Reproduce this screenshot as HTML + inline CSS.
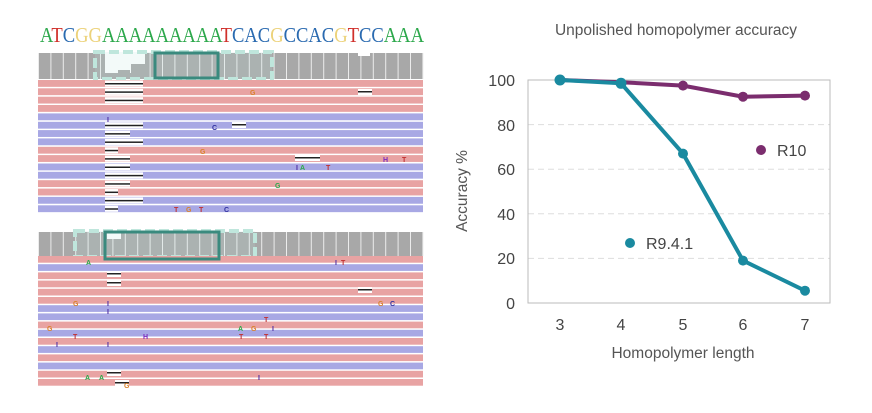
<!DOCTYPE html>
<html><head><meta charset="utf-8"><style>
html,body{margin:0;padding:0;background:#fff;width:872px;height:413px;overflow:hidden}
svg{display:block}
</style></head><body>
<svg id="s" width="872" height="413" xmlns="http://www.w3.org/2000/svg" font-family="Liberation Sans, sans-serif">
<rect width="872" height="413" fill="#fff"/>
<text x="40" y="42" font-family="Liberation Serif, serif" font-size="21" textLength="384" lengthAdjust="spacingAndGlyphs"><tspan fill="#2ca84b">A</tspan><tspan fill="#d0302b">T</tspan><tspan fill="#2a6ab0">C</tspan><tspan fill="#ecd27a">GG</tspan><tspan fill="#2ca84b">AAAAAAAAA</tspan><tspan fill="#d0302b">T</tspan><tspan fill="#2a6ab0">CAC</tspan><tspan fill="#ecd27a">G</tspan><tspan fill="#2a6ab0">CCAC</tspan><tspan fill="#ecd27a">G</tspan><tspan fill="#d0302b">T</tspan><tspan fill="#2a6ab0">CC</tspan><tspan fill="#2ca84b">AAA</tspan></text>
<g id="left"></g>
<text x="676" y="35" font-size="15.5" fill="#555" text-anchor="middle">Unpolished homopolymer accuracy</text>
<g stroke="#ddd" stroke-dasharray="6,4" stroke-width="1">
<line x1="528" x2="830" y1="258.4" y2="258.4"/><line x1="528" x2="830" y1="213.8" y2="213.8"/><line x1="528" x2="830" y1="169.2" y2="169.2"/><line x1="528" x2="830" y1="124.6" y2="124.6"/>
</g>
<rect x="528" y="80" width="302" height="223" fill="none" stroke="#bbb" stroke-width="1"/>
<g font-size="16" fill="#444" text-anchor="end">
<text x="515" y="309">0</text><text x="515" y="264">20</text><text x="515" y="220">40</text><text x="515" y="175">60</text><text x="515" y="131">80</text><text x="515" y="86">100</text>
</g>
<g font-size="16" fill="#444" text-anchor="middle">
<text x="560" y="330">3</text><text x="621" y="330">4</text><text x="683" y="330">5</text><text x="743" y="330">6</text><text x="805" y="330">7</text>
</g>
<text x="683" y="358" font-size="15.5" fill="#555" text-anchor="middle">Homopolymer length</text>
<text transform="translate(467,191) rotate(-90)" font-size="15.5" fill="#555" text-anchor="middle">Accuracy %</text>
<polyline points="560,80 621,82.2 683,85.6 743,96.7 805,95.6" fill="none" stroke="#7b2d6e" stroke-width="4"/>
<g fill="#7b2d6e"><circle cx="683" cy="85.6" r="5"/><circle cx="743" cy="96.7" r="5"/><circle cx="805" cy="95.6" r="5"/><circle cx="761" cy="150" r="5"/></g>
<polyline points="560,80 621,83.3 683,153.6 743,260.6 805,290.7" fill="none" stroke="#1a8aa0" stroke-width="4"/>
<g fill="#1a8aa0"><circle cx="560" cy="80" r="5.5"/><circle cx="621" cy="83.3" r="5.5"/><circle cx="683" cy="153.6" r="5"/><circle cx="743" cy="260.6" r="5"/><circle cx="805" cy="290.7" r="5"/><circle cx="630" cy="243" r="5"/></g>
<text x="777" y="156" font-size="16" fill="#444">R10</text>
<text x="646" y="249" font-size="16" fill="#444">R9.4.1</text>
</svg>
<script>
var g=document.getElementById('left'),h='';
var P='#e8a3a3',B='#a8a8e4';
function panel(y0,covH,rows,rowY,rowH,dip,light,dark){
  h+='<rect x="38" y="'+y0+'" width="385" height="'+covH+'" fill="#a8a8a8"/>';
  for(var x=38;x<423;x+=12.4)h+='<rect x="'+x.toFixed(1)+'" y="'+y0+'" width="1" height="'+covH+'" fill="#ececec"/>';
  h+=dip;
  h+='<rect x="'+light[0]+'" y="'+light[1]+'" width="'+light[2]+'" height="'+light[3]+'" fill="#bfe6dc" fill-opacity="0.18" stroke="#bfe6dc" stroke-width="4" stroke-dasharray="10,4"/>';
  for(var i=0;i<rows.length;i++){
    var y=rowY+i*rowH;
    h+='<rect x="38" y="'+y.toFixed(1)+'" width="385" height="'+(rowH-1.5)+'" fill="'+(rows[i]=='p'?P:B)+'"/>';
  }
  h+='<rect x="'+dark[0]+'" y="'+dark[1]+'" width="'+dark[2]+'" height="'+dark[3]+'" fill="none" stroke="#3a8a7e" stroke-width="3"/>';
}
panel(53,26,'ppppbbbbppbbppbb'.split(''),80,8.35,
 '<rect x="105" y="53" width="40" height="20" fill="#fff"/><rect x="105" y="73" width="10" height="6" fill="#a8a8a8"/><rect x="118" y="70" width="12" height="9" fill="#a8a8a8"/><rect x="131" y="64" width="14" height="15" fill="#a8a8a8"/><rect x="358" y="53" width="12" height="3" fill="#fff"/>',
 [95,52,177,27],[155,53,63,25]);
panel(232,24,'pbppppbbpbpbpbpp'.split(''),256,8.2,
 '<rect x="107" y="233" width="14" height="6" fill="#fff"/>',
 [75,231,180,26],[105,232,114,27]);
var dl=[[105,143],[105,143],[105,143],null,null,[105,143],[105,130],[105,143],[105,118],[105,130],[105,130],[105,143],[105,130],[105,118],[105,143],[105,118]];
for(var i=0;i<16;i++){if(!dl[i])continue;var y=80+i*8.35;h+='<rect x="'+dl[i][0]+'" y="'+(y+0.5)+'" width="'+(dl[i][1]-dl[i][0])+'" height="6" fill="#fff"/><rect x="'+dl[i][0]+'" y="'+(y+3)+'" width="'+(dl[i][1]-dl[i][0])+'" height="1.5" fill="#222"/>';}
h+='<rect x="358" y="89" width="14" height="6" fill="#fff"/><rect x="358" y="91" width="14" height="1.5" fill="#222"/>';
h+='<rect x="232" y="122" width="14" height="6" fill="#fff"/><rect x="232" y="124" width="14" height="1.5" fill="#222"/>';
h+='<rect x="295" y="155" width="25" height="6" fill="#fff"/><rect x="295" y="157" width="25" height="1.5" fill="#222"/>';
var b=[[107,274],[107,283],[358,290],[107,373],[115,383]];
b.forEach(function(d){h+='<rect x="'+d[0]+'" y="'+(d[1]-3)+'" width="14" height="6" fill="#fff"/><rect x="'+d[0]+'" y="'+(d[1]-1)+'" width="14" height="1.5" fill="#222"/>';});
var L=[[250,94,'G','#d9822b'],[107,121,'I','#4b2aa0'],[212,129,'C','#3030a0'],[200,153,'G','#d9822b'],[383,161,'H','#7b2ac0'],[402,161,'T','#c03030'],[296,169,'I','#4b2aa0'],[300,169,'A','#2ca84b'],[326,169,'T','#c03030'],[275,187,'G','#2ca84b'],[174,211,'T','#c03030'],[186,211,'G','#d9822b'],[199,211,'T','#c03030'],[224,211,'C','#3030a0'],
[86,264,'A','#2ca84b'],[335,264,'I','#4b2aa0'],[341,264,'T','#c03030'],[73,305,'G','#d9822b'],[107,305,'I','#4b2aa0'],[378,305,'G','#d9822b'],[390,305,'C','#3030a0'],[107,313,'I','#4b2aa0'],[264,321,'T','#c03030'],[47,330,'G','#d9822b'],[238,330,'A','#2ca84b'],[251,330,'G','#d9822b'],[272,330,'I','#4b2aa0'],[73,338,'T','#c03030'],[143,338,'H','#7b2ac0'],[239,338,'T','#c03030'],[264,338,'T','#c03030'],[56,346,'I','#4b2aa0'],[107,346,'I','#4b2aa0'],[85,379,'A','#2ca84b'],[99,379,'A','#2ca84b'],[258,379,'I','#4b2aa0'],[124,387,'G','#d9822b']];
L.forEach(function(d){h+='<text x="'+d[0]+'" y="'+(d[1]+1)+'" font-size="7" font-weight="bold" fill="'+d[3]+'">'+d[2]+'</text>';});
g.innerHTML=h;
</script>
</body></html>
